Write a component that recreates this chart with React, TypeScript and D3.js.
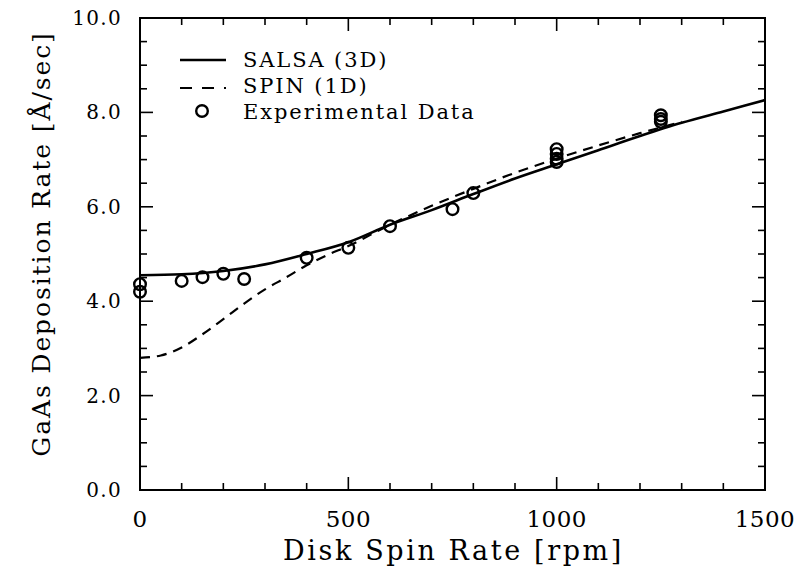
import React from "react";
import * as d3 from "d3";

const salsaRpm = [0, 100, 200, 300, 400, 500, 600, 700, 800, 900, 1000, 1100, 1200, 1300, 1400, 1500];
const salsaRate = [4.55, 4.57, 4.64, 4.78, 5.0, 5.25, 5.62, 5.93, 6.27, 6.6, 6.9, 7.2, 7.5, 7.78, 8.02, 8.26];

const spinRpm = [0, 50, 100, 150, 200, 250, 300, 350, 400, 450, 500, 600, 700, 800, 900, 1000, 1100, 1200, 1300];
const spinRate = [2.8, 2.85, 3.02, 3.3, 3.62, 3.95, 4.25, 4.5, 4.76, 4.98, 5.17, 5.62, 6.02, 6.38, 6.72, 7.02, 7.3, 7.56, 7.8];

const expRpm = [0, 0, 100, 150, 200, 250, 400, 500, 600, 750, 800, 1000, 1000, 1000, 1000, 1250, 1250, 1250];
const expRate = [4.36, 4.2, 4.43, 4.51, 4.58, 4.47, 4.92, 5.13, 5.59, 5.95, 6.29, 7.22, 7.12, 7.02, 6.95, 7.94, 7.86, 7.8];

const xTickLabels = [0, 500, 1000, 1500];
const yTickLabels = [0, 2, 4, 6, 8, 10];
const legendLabels = ["SALSA (3D)", "SPIN (1D)", "Experimental Data"];

const W = 799;
const H = 573;
const L = 140, R = 765, T = 18, B = 490;
const FONT = "'DejaVu Serif', 'Liberation Serif', serif";

export default function App() {
  const x = d3.scaleLinear().domain([0, 1500]).range([L, R]);
  const y = d3.scaleLinear().domain([0, 10]).range([B, T]);
  const line = d3
    .line<[number, number]>()
    .x((d) => x(d[0]))
    .y((d) => y(d[1]))
    .curve(d3.curveMonotoneX);
  const salsa = salsaRpm.map((r, i) => [r, salsaRate[i]] as [number, number]);
  const spin = spinRpm.map((r, i) => [r, spinRate[i]] as [number, number]);

  const xTicks = d3.range(0, 1501, 100);
  const yTicks = d3.range(0, 10.01, 0.5);

  return (
    <svg
      width={W}
      height={H}
      style={{ position: "absolute", left: 0, top: 0, background: "#fff" }}
      fontFamily={FONT}
    >
      <rect x={0} y={0} width={W} height={H} fill="#fff" />
      <defs>
        <clipPath id="clip">
          <rect x={L} y={T} width={R - L} height={B - T} />
        </clipPath>
      </defs>
      <g clipPath="url(#clip)">
        <path d={line(salsa) || ""} fill="none" stroke="#000" strokeWidth={2.6} />
        <path d={line(spin) || ""} fill="none" stroke="#000" strokeWidth={2.2} strokeDasharray="10,7" />
      </g>
      {expRpm.map((r, i) => (
        <circle key={i} cx={x(r)} cy={y(expRate[i])} r={5.8} fill="none" stroke="#000" strokeWidth={2.4} />
      ))}
      <rect x={L} y={T} width={R - L} height={B - T} fill="none" stroke="#000" strokeWidth={2} />
      {xTicks.map((t) => {
        const len = t % 500 === 0 ? 13 : 7;
        return (
          <g key={"x" + t}>
            <line x1={x(t)} x2={x(t)} y1={B} y2={B - len} stroke="#000" strokeWidth={1.6} />
            <line x1={x(t)} x2={x(t)} y1={T} y2={T + len} stroke="#000" strokeWidth={1.6} />
          </g>
        );
      })}
      {yTicks.map((t) => {
        const len = Math.abs(t % 2) < 1e-6 ? 13 : 7;
        return (
          <g key={"y" + t}>
            <line x1={L} x2={L + len} y1={y(t)} y2={y(t)} stroke="#000" strokeWidth={1.6} />
            <line x1={R} x2={R - len} y1={y(t)} y2={y(t)} stroke="#000" strokeWidth={1.6} />
          </g>
        );
      })}
      {xTickLabels.map((t) => (
        <text key={"xl" + t} x={x(t)} y={B + 37} textAnchor="middle" fontSize={23} letterSpacing={0.5} fill="#000">
          {t}
        </text>
      ))}
      {yTickLabels.map((t) => (
        <text key={"yl" + t} x={L - 18} y={y(t) + 7} textAnchor="end" fontSize={20} letterSpacing={1.3} fill="#000">
          {t.toFixed(1)}
        </text>
      ))}
      <text x={(L + R) / 2 + 1} y={560} textAnchor="middle" fontSize={27} letterSpacing={2.6} fill="#000">
        Disk Spin Rate [rpm]
      </text>
      <text
        transform={`translate(50, ${(T + B) / 2 - 10}) rotate(-90)`}
        textAnchor="middle"
        fontSize={25}
        letterSpacing={1.9}
        fill="#000"
      >
        GaAs Deposition Rate [Å/sec]
      </text>
      <line x1={180} x2={226} y1={60} y2={60} stroke="#000" strokeWidth={2.6} />
      <line x1={180} x2={226} y1={88} y2={88} stroke="#000" strokeWidth={2.2} strokeDasharray="12,10" />
      <circle cx={202} cy={111} r={5.8} fill="none" stroke="#000" strokeWidth={2.4} />
      {legendLabels.map((s, i) => (
        <text key={s} x={243} y={67 + i * 26} fontSize={21} letterSpacing={1.9} fill="#000">
          {s}
        </text>
      ))}
    </svg>
  );
}
